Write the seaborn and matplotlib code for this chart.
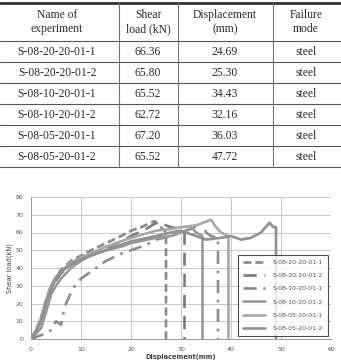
import numpy as np
import pandas as pd
import matplotlib
matplotlib.use("Agg")
import matplotlib.pyplot as plt
import seaborn as sns

# -----------------------------
# Table data
# -----------------------------
col_headers = ["Name of\nexperiment", "Shear\nload (kN)", "Displacement\n(mm)", "Failure\nmode"]
names = ["S-08-20-20-01-1", "S-08-20-20-01-2", "S-08-10-20-01-1",
         "S-08-10-20-01-2", "S-08-05-20-01-1", "S-08-05-20-01-2"]
shear_load = ["66.36", "65.80", "65.52", "62.72", "67.20", "65.52"]
displacement = ["24.69", "25.30", "34.43", "32.16", "36.03", "47.72"]
failure = ["steel"] * 6

# -----------------------------
# Curve data
# -----------------------------
x1 = [0, 1, 2, 3, 4, 5, 6, 8, 10, 12, 15, 18, 20, 22, 24.7, 26, 27, 27]
y1 = [0, 5, 12, 22, 30, 35, 39, 44, 47, 50, 54, 58, 61, 63, 66.4, 63, 60, 0]
x2 = [0, 1, 2, 3, 4, 5, 6, 8, 10, 12, 15, 18, 20, 23, 25.3, 28, 30, 30.7, 30.7]
y2 = [0, 4, 11, 20, 28, 33, 37, 42, 45, 48, 51, 55, 58, 62, 65.8, 63, 62, 60, 0]
x3 = [0, 2.8, 4, 5, 6, 6.5, 7, 8, 9, 10, 12, 15, 18, 20, 23, 25, 28, 30, 32, 34.4, 35, 36, 37.4, 37.4]
y3 = [0, 3, 5, 10, 8, 15, 20, 26, 31, 34, 38, 44, 48, 50, 53, 56, 58, 60, 62, 65.5, 60, 58, 57, 0]
x4 = [0, 2, 3, 4, 5, 6, 8, 10, 12, 15, 18, 20, 25, 28, 30, 32.2, 33, 34.3, 34.3]
y4 = [0, 6, 15, 25, 30, 34, 40, 44, 47, 50, 52, 54, 57, 58, 60, 62.7, 60, 58, 0]
x5 = [0, 1, 2, 3, 4, 5, 6, 8, 10, 15, 20, 25, 28, 30, 33, 36, 37, 38, 39.5, 39.5]
y5 = [0, 5, 12, 22, 30, 35, 38, 43, 46, 52, 57, 61, 62, 63, 64, 67.2, 63, 60, 58, 0]
x6 = [0, 1, 2, 3, 4, 5, 6, 8, 10, 15, 20, 25, 28, 30, 33, 35, 38, 40, 42, 44, 46, 47.7, 48.5, 49, 49]
y6 = [0, 4, 10, 20, 28, 34, 38, 42, 45, 50, 55, 58, 60, 61, 58, 56, 57, 58, 56, 57, 60, 65.5, 63, 63, 0]

xs = [x1, x2, x3, x4, x5, x6]
ys = [y1, y2, y3, y4, y5, y6]

frames = []
for n, x, y in zip(names, xs, ys):
    d = pd.DataFrame({"disp": x, "load": y, "name": n})
    frames.append(d)
df = pd.concat(frames, ignore_index=True)

sns.set_style("white")
plt.rcParams["font.family"] = ["DejaVu Sans"]

fig = plt.figure(figsize=(3.41, 3.62), dpi=100)

# -----------------------------
# Table (pixel coordinate axes)
# -----------------------------
tax = fig.add_axes([0, 0, 1, 1])
tax.set_xlim(0, 341)
tax.set_ylim(362, 0)
tax.axis("off")

col_edges = [0, 119, 178, 273, 341]
col_centers = [57, 148, 225, 306]
row_lines = [41, 62, 83, 104, 125, 146, 167]

tax.plot([0, 341], [3, 3], color="#333333", lw=2.0)
for yl in row_lines:
    tax.plot([0, 341], [yl, yl], color="#555555", lw=0.8)
for xe in col_edges[1:-1]:
    tax.plot([xe, xe], [3, 167], color="#777777", lw=0.8)

tfont = dict(family="Liberation Serif", fontsize=8.4, color="#2a2a2a",
             ha="center", va="center")
for cx, h in zip(col_centers, col_headers):
    tax.text(cx, 22, h, linespacing=1.25, **tfont)
for i in range(len(names)):
    yc = 52 + 21 * i
    row = [names[i], shear_load[i], displacement[i], failure[i]]
    for cx, v in zip(col_centers, row):
        tax.text(cx, yc, v, **tfont)

# -----------------------------
# Chart
# -----------------------------
ax = fig.add_axes([31 / 341, 23 / 362, 300 / 341, 142 / 362])
greys = ["#8a8a8a", "#7a7a7a", "#8c8c8c", "#9a9a9a", "#a8a8a8", "#909090"]
dashes = [(3, 1.5), (5, 3), (5, 2.5, 1, 2.5), "", "", ""]
sns.lineplot(data=df, x="disp", y="load", hue="name", style="name",
             palette=greys, dashes=dashes, sort=False, estimator=None,
             units="name", lw=1.9, ax=ax, legend=True)

ax.set_xlim(0, 60)
ax.set_ylim(0, 80)
ax.set_xticks(range(0, 61, 10))
ax.set_yticks(range(0, 81, 10))
ax.grid(True, color="#c8c8c8", lw=0.7)
ax.tick_params(labelsize=4.5, colors="#555555", length=2, width=0.5)
for s in ["top", "right"]:
    ax.spines[s].set_visible(False)
for s in ["left", "bottom"]:
    ax.spines[s].set_color("#999999")
    ax.spines[s].set_linewidth(0.7)
ax.set_xlabel("Displacement(mm)", fontsize=4.8, color="#444444", fontweight="bold", labelpad=2)
ax.set_ylabel("Shear load(kN)", fontsize=4.8, color="#444444", labelpad=2)

leg = ax.legend(loc="lower right", bbox_to_anchor=(1.0, 0.0), fontsize=4.5,
                frameon=True, fancybox=False, edgecolor="#222222",
                handlelength=3.6, labelspacing=1.25, borderpad=0.8,
                handletextpad=1.2, title=None)
leg.get_frame().set_linewidth(0.8)
for t in leg.get_texts():
    t.set_color("#555555")

fig.savefig("out.png", dpi=100)
